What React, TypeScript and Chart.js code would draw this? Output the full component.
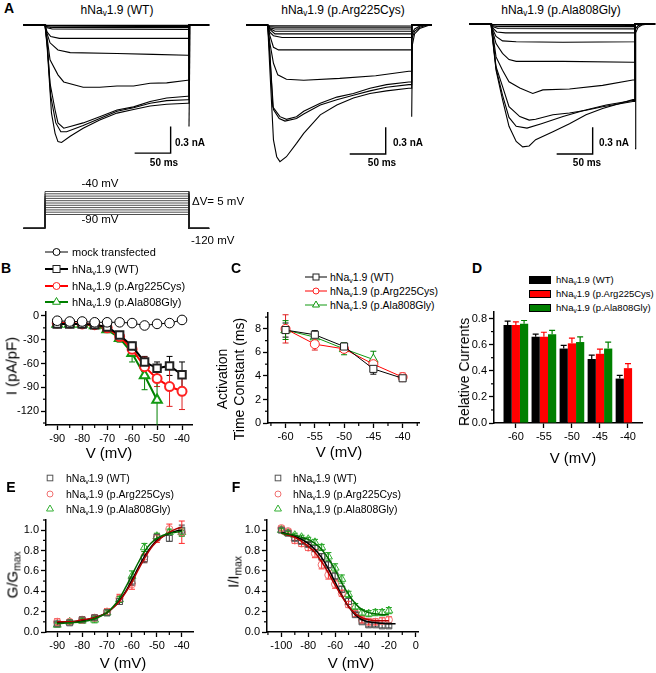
import React, { useEffect, useRef } from 'react';
import { Chart, registerables } from 'chart.js';

const FONT = '"Liberation Sans", Arial, Helvetica, sans-serif';
const RED = '#ff0000';
const GREEN = '#008000';

// ---------------- Panel A : whole-cell current traces (t in ms, I in nA) ----------------
const recStart = -30;
const recEnd = 228;
const pulseEnd = 200;
const scaleBarMs = 50;
const scaleBarNa = 0.3;

const wtTraces = [
  [[3, -0.004], [200, -0.004]],
  [[3, -0.008], [200, -0.01]],
  [[3, -0.012], [200, -0.018]],
  [[3, -0.02], [10, -0.03], [200, -0.03]],
  [[3, -0.03], [10, -0.045], [200, -0.05]],
  [[3, -0.08], [8, -0.13], [20, -0.15], [100, -0.15], [200, -0.15]],
  [[3, -0.1], [7, -0.2], [18, -0.28], [35, -0.31], [100, -0.32], [150, -0.33], [198, -0.34]],
  [[3, -0.15], [7, -0.39], [18, -0.56], [26, -0.64], [53, -0.7], [76, -0.7], [100, -0.685], [123, -0.685], [146, -0.655], [169, -0.65], [198, -0.62]],
  [[3, -0.2], [7, -0.655], [14, -0.955], [18, -1.1], [26, -1.16], [35, -1.14], [53, -1.1], [76, -1.03], [100, -0.955], [123, -0.92], [146, -0.86], [169, -0.82], [198, -0.8]],
  [[3, -0.22], [8, -0.8], [15, -1.1], [22, -1.2], [30, -1.2], [53, -1.13], [76, -1.05], [100, -0.97], [123, -0.93], [146, -0.88], [169, -0.85], [198, -0.84]],
  [[3, -0.25], [9, -0.99], [14, -1.217], [18, -1.31], [23, -1.32], [35, -1.25], [53, -1.16], [76, -1.067], [100, -0.99], [123, -0.95], [146, -0.91], [169, -0.89], [198, -0.88]],
];
const wtTails = [[[200, -1.14], [201.5, 0]]];
const wtScaleBar = [174.5, -1.44];

const argTraces = [
  [[3, -0.01], [200, -0.012]],
  [[3, -0.02], [10, -0.025], [200, -0.025]],
  [[3, -0.03], [10, -0.045], [200, -0.045]],
  [[3, -0.04], [10, -0.07], [200, -0.07]],
  [[3, -0.05], [10, -0.1], [200, -0.1]],
  [[3, -0.08], [8, -0.12], [20, -0.14], [200, -0.14]],
  [[3, -0.12], [8, -0.25], [15, -0.28], [200, -0.28]],
  [[3, -0.2], [8, -0.43], [14, -0.56], [26, -0.61], [50, -0.62], [100, -0.6], [150, -0.57], [196, -0.52]],
  [[3, -0.3], [7, -0.92], [17, -1.03], [26, -1.06], [40, -1.03], [50, -0.97], [73, -0.88], [96, -0.81], [119, -0.77], [142, -0.71], [165, -0.67], [196, -0.64]],
  [[3, -0.35], [8, -0.95], [16, -1.05], [24, -1.08], [40, -1.05], [50, -1.0], [73, -0.9], [96, -0.84], [119, -0.79], [142, -0.74], [165, -0.7], [196, -0.67]],
  [[3, -0.5], [8, -1.29], [12.5, -1.48], [17, -1.535], [26, -1.48], [40, -1.33], [50, -1.217], [73, -1.01], [96, -0.9], [119, -0.82], [142, -0.77], [165, -0.74], [196, -0.71]],
];
const argTails = [
  [[200, -1.03], [201, -0.22], [204, -0.1], [211, -0.04], [225, 0]],
  [[200, -0.16], [204, -0.07], [211, -0.025], [222, 0]],
  [[200, -0.11], [204, -0.045], [212, -0.01], [220, 0]],
];
const argScaleBar = [163.9, -1.45];

const alaTraces = [
  [[3, -0.005], [200, -0.005]],
  [[3, -0.012], [200, -0.015]],
  [[3, -0.02], [10, -0.03], [200, -0.03]],
  [[3, -0.03], [10, -0.05], [200, -0.055]],
  [[3, -0.05], [8, -0.09], [20, -0.1], [200, -0.1]],
  [[2.3, -0.06], [7, -0.14], [16, -0.19], [35, -0.2], [100, -0.205], [200, -0.2]],
  [[2.3, -0.08], [7, -0.22], [16, -0.33], [25, -0.4], [35, -0.42], [100, -0.42], [197, -0.43]],
  [[2.3, -0.1], [7, -0.37], [16, -0.52], [25, -0.65], [40, -0.72], [58, -0.78], [72, -0.74], [109, -0.73], [155, -0.69], [197, -0.63]],
  [[2.3, -0.15], [7, -0.48], [16, -0.7], [25, -0.93], [40, -1.04], [53, -1.08], [62, -1.07], [86, -1.02], [109, -1.0], [132, -0.97], [155, -0.93], [197, -0.87]],
  [[2.3, -0.16], [7, -0.5], [16, -0.8], [25, -1.05], [35, -1.15], [50, -1.17], [70, -1.12], [100, -1.04], [130, -0.97], [160, -0.91], [197, -0.86]],
  [[2.3, -0.18], [7, -0.52], [16, -0.85], [25, -1.15], [35, -1.32], [44, -1.38], [53, -1.37], [62, -1.3], [86, -1.21], [109, -1.12], [132, -1.02], [155, -0.95], [197, -0.85]],
];
const alaTails = [
  [[200, -1.4], [201, -0.1], [204, -0.04], [210, -0.01], [218, 0]],
  [[200, -0.06], [204, -0.02], [212, 0]],
];
const alaScaleBar = [141.2, -1.46];

// voltage protocol (mV)
const protoSteps = [-90, -85, -80, -75, -70, -65, -60, -55, -50, -45, -40];
const protoHold = -120;

// ---------------- Panel B : I-V ----------------
const bV = [-90, -85, -80, -75, -70, -65, -60, -55, -50, -45, -40];
const bMock = [-6, -7, -7, -8, -8, -8, -9, -12, -10, -9, -5];
const bMockErr = [2, 2, 2, 2, 2, 2, 2, 3, 3, 3, 2];
const bWT = [-10, -10, -10, -11, -14, -24, -38, -58, -66, -63, -74];
const bWTErr = [2, 2, 2, 2, 3, 4, 5, 7, 8, 12, 16];
const bArg = [-9, -9, -10, -11, -15, -26, -42, -64, -79, -89, -95];
const bArgErr = [2, 2, 2, 2, 3, 4, 6, 12, 10, 25, 23];
const bAla = [-10, -10, -10, -12, -17, -28, -47, -75, -106];
const bAlaErr = [3, 3, 3, 3, 4, 5, 11, 18, 40];
const bTicksX = [-90, -80, -70, -60, -50, -40];
const bTicksY = [0, -30, -60, -90, -120];

// ---------------- Panel C : activation time constant ----------------
const cV = [-60, -55, -50, -45, -40];
const cWT = [7.9, 7.5, 6.5, 4.6, 3.8];
const cWTErr = [0.6, 0.35, 0.3, 0.45, 0.2];
const cArg = [8.0, 6.7, 6.3, 5.0, 3.9];
const cArgErr = [1.2, 0.5, 0.3, 0.3, 0.35];
const cAla = [7.9, 7.3, 6.3, 5.4];
const cAlaErr = [0.8, 0.4, 0.5, 0.7];
const cTicksX = [-60, -55, -50, -45, -40];
const cTicksY = [0, 2, 4, 6, 8];

// ---------------- Panel D : relative currents ----------------
const dV = [-60, -55, -50, -45, -40];
const dWT = [0.75, 0.66, 0.57, 0.49, 0.34];
const dWTErr = [0.03, 0.02, 0.025, 0.03, 0.025];
const dArg = [0.75, 0.66, 0.61, 0.53, 0.42];
const dArgErr = [0.025, 0.035, 0.04, 0.035, 0.035];
const dAla = [0.76, 0.68, 0.62, 0.57];
const dAlaErr = [0.025, 0.03, 0.04, 0.05];
const dTicksY = [0, 0.2, 0.4, 0.6, 0.8];

// ---------------- Panel E : conductance ----------------
const eV = [-90, -85, -80, -75, -70, -65, -60, -55, -50, -45, -40];
const eWT = [0.08, 0.09, 0.12, 0.14, 0.19, 0.3, 0.5, 0.72, 0.93, 0.92, 1.0];
const eWTErr = [0.02, 0.02, 0.02, 0.02, 0.03, 0.03, 0.04, 0.04, 0.03, 0.03, 0.05];
const eArg = [0.1, 0.1, 0.12, 0.14, 0.2, 0.33, 0.47, 0.74, 0.92, 1.01, 0.98];
const eArgErr = [0.03, 0.02, 0.03, 0.03, 0.03, 0.04, 0.05, 0.05, 0.04, 0.05, 0.11];
const eAla = [0.07, 0.1, 0.11, 0.12, 0.19, 0.32, 0.55, 0.83, 0.94, 0.98, 0.98];
const eAlaErr = [0.02, 0.02, 0.02, 0.03, 0.03, 0.03, 0.05, 0.04, 0.03, 0.03, 0.04];
const eFitV = [-90, -85, -80, -75, -70, -67.5, -65, -62.5, -60, -57.5, -55, -52.5, -50, -47.5, -45, -42.5, -40];
const eFitWT = [0.09, 0.1, 0.11, 0.14, 0.19, 0.24, 0.31, 0.4, 0.51, 0.63, 0.74, 0.83, 0.9, 0.94, 0.97, 0.99, 1.0];
const eFitArg = [0.1, 0.1, 0.12, 0.14, 0.19, 0.24, 0.3, 0.39, 0.49, 0.61, 0.72, 0.82, 0.89, 0.94, 0.98, 1.01, 1.03];
const eFitAla = [0.08, 0.09, 0.1, 0.13, 0.19, 0.25, 0.33, 0.44, 0.56, 0.68, 0.79, 0.87, 0.92, 0.95, 0.97, 0.98, 0.99];
const eTicksX = [-90, -80, -70, -60, -50, -40];
const eTicksY = [0, 0.2, 0.4, 0.6, 0.8, 1.0];

// ---------------- Panel F : steady-state inactivation ----------------
const fV = [-100, -95, -90, -85, -80, -75, -70, -65, -60, -55, -50, -45, -40, -35, -30, -25, -20];
const fWT = [1.0, 0.97, 0.92, 0.89, 0.86, 0.82, 0.74, 0.66, 0.55, 0.42, 0.3, 0.17, 0.1, 0.07, 0.07, 0.06, 0.06];
const fWTErr = [0.02, 0.02, 0.02, 0.02, 0.02, 0.03, 0.03, 0.03, 0.03, 0.03, 0.03, 0.02, 0.02, 0.02, 0.02, 0.02, 0.02];
const fArg = [1.02, 0.99, 0.9, 0.87, 0.83, 0.77, 0.66, 0.56, 0.47, 0.38, 0.27, 0.18, 0.12, 0.1, 0.1, 0.11, 0.12];
const fArgErr = [0.02, 0.02, 0.03, 0.03, 0.03, 0.04, 0.04, 0.04, 0.04, 0.03, 0.03, 0.03, 0.03, 0.03, 0.03, 0.03, 0.03];
const fAla = [1.0, 0.97, 0.95, 0.93, 0.91, 0.88, 0.83, 0.74, 0.63, 0.52, 0.37, 0.25, 0.19, 0.18, 0.19, 0.19, 0.21];
const fAlaErr = [0.02, 0.02, 0.02, 0.02, 0.02, 0.03, 0.03, 0.04, 0.04, 0.04, 0.03, 0.03, 0.03, 0.03, 0.03, 0.03, 0.03];
const fFitV = [-100, -95, -90, -85, -80, -75, -70, -65, -60, -55, -50, -45, -40, -35, -30, -25, -20, -15];
const fFitWT = [0.98, 0.96, 0.94, 0.91, 0.87, 0.81, 0.73, 0.62, 0.49, 0.36, 0.25, 0.17, 0.12, 0.1, 0.09, 0.085, 0.08, 0.08];
const fFitArg = [0.97, 0.95, 0.93, 0.89, 0.84, 0.78, 0.69, 0.58, 0.46, 0.35, 0.25, 0.18, 0.14, 0.12, 0.11, 0.11, 0.11];
const fFitAla = [0.97, 0.96, 0.95, 0.93, 0.91, 0.87, 0.81, 0.72, 0.61, 0.48, 0.37, 0.28, 0.22, 0.19, 0.18, 0.17, 0.17];
const fTicksX = [-100, -80, -60, -40, -20, 0];
const fTicksY = [0, 0.2, 0.4, 0.6, 0.8, 1.0];

// ---------------- plugins ----------------
function drawErrors(chart: any, after: boolean) {
  const { ctx, chartArea } = chart;
  ctx.save();
  ctx.beginPath();
  ctx.rect(chartArea.left, chartArea.top - 2, chartArea.right - chartArea.left, chartArea.bottom - chartArea.top + 2);
  ctx.clip();
  chart.data.datasets.forEach((ds: any, di: number) => {
    if (!ds.errors || !!ds.errorsAfter !== after || !chart.isDatasetVisible(di)) return;
    const meta = chart.getDatasetMeta(di);
    const yScale = chart.scales[meta.yAxisID];
    ctx.strokeStyle = ds.errorColor || ds.borderColor || '#000';
    ctx.lineWidth = ds.errorWidth || 1;
    const cap = ds.capWidth == null ? 3 : ds.capWidth;
    meta.data.forEach((el: any, i: number) => {
      const e = ds.errors[i];
      if (!e) return;
      const d = ds.data[i];
      const v = typeof d === 'number' ? d : d.y;
      const x = el.x;
      const yHi = yScale.getPixelForValue(v + e);
      const yLo = ds.errorUpOnly ? el.y : yScale.getPixelForValue(v - e);
      ctx.beginPath();
      ctx.moveTo(x, yLo);
      ctx.lineTo(x, yHi);
      ctx.moveTo(x - cap, yHi);
      ctx.lineTo(x + cap, yHi);
      if (!ds.errorUpOnly) {
        ctx.moveTo(x - cap, yLo);
        ctx.lineTo(x + cap, yLo);
      }
      ctx.stroke();
    });
  });
  ctx.restore();
}

const errorBarPlugin = {
  id: 'errorBars',
  beforeDatasetsDraw(chart: any) { drawErrors(chart, false); },
  afterDatasetsDraw(chart: any) { drawErrors(chart, true); },
};

const minorTickPlugin = {
  id: 'minorTicks',
  afterDraw(chart: any, _args: any, opts: any) {
    if (!opts) return;
    const { ctx, chartArea } = chart;
    const len = opts.len || 3;
    ctx.save();
    ctx.strokeStyle = '#000';
    ctx.lineWidth = 1.2;
    ['x', 'y'].forEach((id) => {
      const step = opts[id];
      const s = chart.scales[id];
      if (!step || !s) return;
      const majors = s.ticks.map((t: any) => t.value);
      const n0 = Math.ceil((s.min - 1e-9) / step);
      const n1 = Math.floor((s.max + 1e-9) / step);
      for (let n = n0; n <= n1; n++) {
        const v = n * step;
        if (majors.some((m: number) => Math.abs(m - v) < step * 1e-3)) continue;
        const p = s.getPixelForValue(v);
        ctx.beginPath();
        if (id === 'x') { ctx.moveTo(p, chartArea.bottom); ctx.lineTo(p, chartArea.bottom + len); }
        else { ctx.moveTo(chartArea.left, p); ctx.lineTo(chartArea.left - len, p); }
        ctx.stroke();
      }
    });
    ctx.restore();
  },
};

Chart.register(...registerables, errorBarPlugin, minorTickPlugin);
Chart.defaults.font.family = FONT;

// ---------------- helpers ----------------
const fmtInt = (v: number) => String(Math.round(v));
const fmt1 = (v: number) => v.toFixed(1);

function axis(min: number, max: number, ticks: number[], fmt: (v: number) => string, extra: any = {}) {
  return {
    type: 'linear',
    min,
    max,
    afterBuildTicks: (s: any) => { s.ticks = ticks.map((v) => ({ value: v })); },
    border: { display: true, color: '#000', width: 1.5 },
    grid: { display: true, drawOnChartArea: false, drawTicks: true, tickLength: 5, tickWidth: 1.3, tickColor: '#000', offset: false },
    ticks: { color: '#000', font: { family: FONT, size: 11 }, padding: 2, maxRotation: 0, autoSkip: false, callback: (v: any) => fmt(Number(v)) },
    ...extra,
  };
}

function series(xs: number[], ys: number[], errs: number[] | null, style: any) {
  return { type: 'line', data: ys.map((y, i) => ({ x: xs[i], y })), errors: errs, ...style };
}

function PlotChart({ rect, ml = 40, mb = 30, pad = 8, make }: any) {
  const ref = useRef<HTMLCanvasElement>(null);
  const l = Math.round(rect[0]), t = Math.round(rect[1]), r = Math.round(rect[2]), b = Math.round(rect[3]);
  const left = l - ml - pad, top = t - pad;
  const width = r - l + ml + 2 * pad, height = b - t + mb + 2 * pad;
  useEffect(() => {
    const cfg: any = make();
    cfg.options = cfg.options || {};
    cfg.options.animation = false;
    cfg.options.responsive = false;
    cfg.options.events = [];
    cfg.options.layout = { padding: pad };
    const sc = cfg.options.scales || {};
    Object.keys(sc).forEach((k) => {
      sc[k].afterFit = (scale: any) => {
        if (scale.isHorizontal()) scale.height = mb; else scale.width = ml;
        scale.paddingLeft = 0; scale.paddingRight = 0; scale.paddingTop = 0; scale.paddingBottom = 0;
      };
    });
    cfg.options.plugins = { legend: { display: false }, tooltip: { enabled: false }, ...(cfg.options.plugins || {}) };
    const chart = new Chart(ref.current as HTMLCanvasElement, cfg);
    return () => chart.destroy();
  }, []);
  return <canvas ref={ref} width={width} height={height} style={{ position: 'absolute', left, top, width, height, display: 'block' }} />;
}

const PX_PER_MS = 0.72;
const PX_PER_NA = 89;

function traceData(pts: number[][]) {
  const last = pts[pts.length - 1][1];
  return [
    { x: recStart, y: 0 }, { x: 0, y: 0 },
    ...pts.map((p) => ({ x: p[0], y: p[1] })),
    { x: pulseEnd, y: last }, { x: pulseEnd, y: 0 }, { x: recEnd, y: 0 },
  ];
}

function TracePanel({ originX, baseY, traces, tails, bar }: any) {
  const left = Math.round(originX - 23), top = Math.round(baseY - 7), width = 190, height = 151;
  const xmin = (left - originX) / PX_PER_MS, xmax = (left + width - originX) / PX_PER_MS;
  const ymax = (baseY - top) / PX_PER_NA, ymin = -(top + height - baseY) / PX_PER_NA;
  const make = () => {
    const line = { type: 'line', borderColor: '#000', borderWidth: 1.1, pointRadius: 0, tension: 0, fill: false };
    const datasets: any[] = traces.map((tr: number[][]) => ({ ...line, data: traceData(tr) }));
    tails.forEach((tl: number[][]) => datasets.push({ ...line, data: tl.map((p) => ({ x: p[0], y: p[1] })) }));
    datasets.push({
      ...line, borderWidth: 1.4,
      data: [
        { x: bar[0] - scaleBarMs, y: bar[1] },
        { x: bar[0], y: bar[1] },
        { x: bar[0], y: bar[1] + scaleBarNa },
      ],
    });
    return {
      type: 'line',
      data: { datasets },
      options: {
        scales: {
          x: { type: 'linear', display: false, min: xmin, max: xmax },
          y: { type: 'linear', display: false, min: ymin, max: ymax },
        },
      },
    };
  };
  return <PlotChart rect={[left, top, left + width, top + height]} ml={0} mb={0} pad={0} make={make} />;
}

function ProtocolPanel() {
  const originX = 45;
  const left = 22, width = 190, top = 186, height = 50;
  const y40 = 191.5, pxPerMv = 0.46;
  const xmin = (left - originX) / PX_PER_MS, xmax = (left + width - originX) / PX_PER_MS;
  const ymax = -40 + (y40 - top) / pxPerMv, ymin = -40 - (top + height - y40) / pxPerMv;
  const make = () => ({
    type: 'line',
    data: {
      datasets: protoSteps.map((v) => ({
        borderColor: '#222', borderWidth: 0.8, pointRadius: 0, tension: 0,
        data: [
          { x: recStart, y: protoHold }, { x: 0, y: protoHold }, { x: 0, y: v },
          { x: pulseEnd, y: v }, { x: pulseEnd, y: protoHold }, { x: recEnd, y: protoHold },
        ],
      })),
    },
    options: {
      scales: {
        x: { type: 'linear', display: false, min: xmin, max: xmax },
        y: { type: 'linear', display: false, min: ymin, max: ymax },
      },
    },
  });
  return <PlotChart rect={[left, top, left + width, top + height]} ml={0} mb={0} pad={0} make={make} />;
}

// ---------------- chart configs ----------------
const makeB = () => ({
  type: 'line',
  data: {
    datasets: [
      series(bV, bMock, bMockErr, { borderColor: '#000', borderWidth: 1, pointStyle: 'circle', pointRadius: 4.8, pointBorderColor: '#000', pointBackgroundColor: '#fff', errorColor: '#000' }),
      series(bV, bWT, bWTErr, { borderColor: '#000', borderWidth: 2, pointStyle: 'rect', pointRadius: 5.3, pointBorderColor: '#222', pointBackgroundColor: '#fff', errorColor: '#000' }),
      series(bV, bArg, bArgErr, { borderColor: RED, borderWidth: 2, pointStyle: 'circle', pointRadius: 4.5, pointBorderColor: '#f22', pointBackgroundColor: '#fff', errorColor: '#e02020' }),
      series(bV, bAla, bAlaErr, { borderColor: GREEN, borderWidth: 2, pointStyle: 'triangle', pointRadius: 5.5, pointBorderColor: '#119911', pointBackgroundColor: '#fff', errorColor: GREEN }),
    ],
  },
  options: {
    scales: { x: axis(-94.5, -36, bTicksX, fmtInt), y: axis(-137.5, 5, bTicksY, fmtInt) },
    plugins: { minorTicks: { x: 5, y: 15 } },
  },
});

const makeC = () => ({
  type: 'line',
  data: {
    datasets: [
      series(cV, cWT, cWTErr, { borderColor: '#000', borderWidth: 1, pointStyle: 'rect', pointRadius: 5, pointBorderColor: '#222', pointBackgroundColor: '#fff', errorColor: '#000' }),
      series(cV, cArg, cArgErr, { borderColor: RED, borderWidth: 1, pointStyle: 'circle', pointRadius: 4.5, pointBorderColor: '#f22', pointBackgroundColor: '#fff', errorColor: '#e02020' }),
      series(cV, cAla, cAlaErr, { borderColor: '#119911', borderWidth: 1, pointStyle: 'triangle', pointRadius: 5.5, pointBorderColor: '#119911', pointBackgroundColor: '#fff', errorColor: GREEN }),
    ],
  },
  options: {
    scales: { x: axis(-63, -37.2, cTicksX, fmtInt), y: axis(0, 9.35, cTicksY, fmtInt) },
    plugins: { minorTicks: { x: 2.5, y: 1 } },
  },
});

const barSeries = (ys: number[], errs: number[], color: string) => ({
  type: 'bar',
  data: ys.map((y, i) => ({ x: dV[i], y })),
  backgroundColor: color,
  borderWidth: 0,
  errors: errs,
  errorsAfter: true,
  errorUpOnly: true,
  errorColor: color,
  errorWidth: 1.2,
  capWidth: 3,
  categoryPercentage: 0.88,
  barPercentage: 1,
});

const makeD = () => ({
  type: 'bar',
  data: {
    datasets: [
      barSeries(dWT, dWTErr, '#000000'),
      barSeries(dArg, dArgErr, RED),
      barSeries(dAla, dAlaErr, GREEN),
    ],
  },
  options: {
    scales: {
      x: axis(-63.9, -37.5, dV, fmtInt, { offset: false }),
      y: axis(0, 0.85, dTicksY, fmt1),
    },
    plugins: { minorTicks: { y: 0.1 } },
  },
});

function sigmoidChart(
  xs: number[], ys: number[][], errs: number[][], fitX: number[], fits: number[][],
  xr: number[], xt: number[], xMinor: number,
) {
  const markerStyles = [
    { pointStyle: 'rect', pointRadius: 4.2, pointBorderColor: '#555', errorColor: '#333' },
    { pointStyle: 'circle', pointRadius: 3.6, pointBorderColor: '#f07070', errorColor: '#ff2a2a' },
    { pointStyle: 'triangle', pointRadius: 4.6, pointBorderColor: '#33b033', errorColor: '#159a15' },
  ];
  const fitColors = ['#000000', '#b00000', '#006a00'];
  const fitDs = fits.map((f, k) => ({
    type: 'line',
    data: f.map((y, i) => ({ x: fitX[i], y })),
    borderColor: fitColors[k],
    borderWidth: 1.5,
    pointRadius: 0,
    cubicInterpolationMode: 'monotone',
  }));
  const ptDs = ys.map((y, k) =>
    series(xs, y, errs[k], { showLine: false, pointBackgroundColor: 'rgba(0,0,0,0)', pointBorderWidth: 1, ...markerStyles[k] }),
  );
  return () => ({
    type: 'line',
    data: { datasets: [...fitDs.reverse(), ...ptDs] },
    options: {
      scales: { x: axis(xr[0], xr[1], xt, fmtInt), y: axis(0, 1.1, eTicksY, fmt1) },
      plugins: { minorTicks: { x: xMinor, y: 0.1 } },
    },
  });
}

const makeE = sigmoidChart(eV, [eWT, eArg, eAla], [eWTErr, eArgErr, eAlaErr], eFitV, [eFitWT, eFitArg, eFitAla], [-94.5, -35.5], eTicksX, 5);
const makeF = sigmoidChart(fV, [fWT, fArg, fAla], [fWTErr, fArgErr, fAlaErr], fFitV, [fFitWT, fFitArg, fFitAla], [-110.7, 1.7], fTicksX, 10);

// ---------------- text helpers ----------------
const subStyle: any = { fontSize: '0.68em', verticalAlign: '-0.3em', lineHeight: 0 };
const HNa = () => (<>hNa<sub style={subStyle}>v</sub>1.9</>);

function Txt({ x, y, size, anchor = 'start', bold = false, rotate = false, children }: any) {
  const tx = anchor === 'middle' ? '-50%' : '0';
  return (
    <div
      style={{
        position: 'absolute', left: x, top: y, fontSize: size, fontFamily: FONT,
        fontWeight: bold ? 'bold' : 'normal', lineHeight: 1, whiteSpace: 'nowrap',
        transform: `translate(${tx}, -50%)${rotate ? ' rotate(-90deg)' : ''}`,
      }}
    >
      {children}
    </div>
  );
}

function Sym({ shape, cx, cy, r, stroke, fill = 'none', sw = 1 }: any) {
  if (shape === 'circle') return <circle cx={cx} cy={cy} r={r} stroke={stroke} fill={fill} strokeWidth={sw} />;
  if (shape === 'rect') return <rect x={cx - r} y={cy - r} width={2 * r} height={2 * r} stroke={stroke} fill={fill} strokeWidth={sw} />;
  const pts = `${cx},${cy - r} ${cx - r * 0.87},${cy + r * 0.5} ${cx + r * 0.87},${cy + r * 0.5}`;
  return <polygon points={pts} stroke={stroke} fill={fill} strokeWidth={sw} />;
}

function LegendItem({ x0, x1, y, lineColor, lineWidth = 1, shape, r, stroke, fill = '#fff', textX, size, children }: any) {
  const w = x1 - x0;
  return (
    <>
      <svg style={{ position: 'absolute', left: x0, top: y - 8, overflow: 'visible' }} width={w} height={16}>
        {lineColor ? <line x1={0} y1={8} x2={w} y2={8} stroke={lineColor} strokeWidth={lineWidth} /> : null}
        <Sym shape={shape} cx={w / 2} cy={8} r={r} stroke={stroke} fill={fill} />
      </svg>
      <Txt x={textX} y={y} size={size}>{children}</Txt>
    </>
  );
}

function Swatch({ x, y, color, textX, size, children }: any) {
  return (
    <>
      <div style={{ position: 'absolute', left: x, top: y - 4, width: 22, height: 8, background: color, boxSizing: 'border-box', border: '0.5px solid #000' }} />
      <Txt x={textX} y={y} size={size}>{children}</Txt>
    </>
  );
}

export default function App() {
  return (
    <div style={{ position: 'absolute', left: 0, top: 0, width: 656, height: 673, background: '#fff', fontFamily: FONT, color: '#000', overflow: 'hidden' }}>
      {/* Panel A */}
      <Txt x={9} y={8} size={14} anchor="middle" bold>A</Txt>
      <Txt x={117} y={10} size={12} anchor="middle"><HNa /> (WT)</Txt>
      <Txt x={343} y={10} size={12} anchor="middle"><HNa /> (p.Arg225Cys)</Txt>
      <Txt x={561} y={10} size={12} anchor="middle"><HNa /> (p.Ala808Gly)</Txt>
      <TracePanel originX={45} baseY={25} traces={wtTraces} tails={wtTails} bar={wtScaleBar} />
      <TracePanel originX={267.7} baseY={25} traces={argTraces} tails={argTails} bar={argScaleBar} />
      <TracePanel originX={491} baseY={24} traces={alaTraces} tails={alaTails} bar={alaScaleBar} />
      <Txt x={175} y={143} size={10} bold>0.3 nA</Txt>
      <Txt x={164} y={163} size={10} anchor="middle" bold>50 ms</Txt>
      <Txt x={393} y={143} size={10} bold>0.3 nA</Txt>
      <Txt x={382} y={163} size={10} anchor="middle" bold>50 ms</Txt>
      <Txt x={599} y={143} size={10} bold>0.3 nA</Txt>
      <Txt x={587} y={163} size={10} anchor="middle" bold>50 ms</Txt>

      <ProtocolPanel />
      <Txt x={100} y={184} size={11.5} anchor="middle">-40 mV</Txt>
      <Txt x={100} y={220} size={11.5} anchor="middle">-90 mV</Txt>
      <Txt x={192} y={202} size={11.5}>ΔV= 5 mV</Txt>
      <Txt x={191} y={241} size={11.5}>-120 mV</Txt>

      {/* Panel B */}
      <Txt x={6} y={268} size={14} anchor="middle" bold>B</Txt>
      <LegendItem x0={45} x1={68} y={252} lineColor="#000" lineWidth={1} shape="circle" r={3.5} stroke="#000" textX={72} size={11}>mock transfected</LegendItem>
      <LegendItem x0={45} x1={68} y={269} lineColor="#000" lineWidth={2} shape="rect" r={3.5} stroke="#222" textX={72} size={11}><HNa /> (WT)</LegendItem>
      <LegendItem x0={45} x1={68} y={286} lineColor={RED} lineWidth={2} shape="circle" r={3.5} stroke="#f22" textX={72} size={11}><HNa /> (p.Arg225Cys)</LegendItem>
      <LegendItem x0={45} x1={68} y={302} lineColor={GREEN} lineWidth={2} shape="triangle" r={4.5} stroke="#119911" textX={72} size={11}><HNa /> (p.Ala808Gly)</LegendItem>
      <PlotChart rect={[45.7, 312.3, 191.7, 425]} make={makeB} />
      <Txt x={11} y={366} size={15} anchor="middle" rotate>I (pA/pF)</Txt>
      <Txt x={109} y={452} size={15} anchor="middle">V (mV)</Txt>

      {/* Panel C */}
      <Txt x={236} y={268} size={14} anchor="middle" bold>C</Txt>
      <LegendItem x0={305} x1={327} y={277} lineColor="#000" shape="rect" r={3} stroke="#222" textX={330} size={10.5}><HNa /> (WT)</LegendItem>
      <LegendItem x0={305} x1={327} y={291} lineColor={RED} shape="circle" r={3} stroke="#f22" textX={330} size={10.5}><HNa /> (p.Arg225Cys)</LegendItem>
      <LegendItem x0={305} x1={327} y={304.5} lineColor="#119911" shape="triangle" r={4} stroke="#119911" textX={330} size={10.5}><HNa /> (p.Ala808Gly)</LegendItem>
      <PlotChart rect={[268.3, 313.3, 419, 423.3]} make={makeC} />
      <Txt x={222} y={379} size={14} anchor="middle" rotate>Activation</Txt>
      <Txt x={239} y={379} size={14} anchor="middle" rotate>Time Constant (ms)</Txt>
      <Txt x={339} y={451} size={15} anchor="middle">V (mV)</Txt>

      {/* Panel D */}
      <Txt x={477} y={268} size={14} anchor="middle" bold>D</Txt>
      <Swatch x={529} y={280} color="#000" textX={556} size={9.5}><HNa /> (WT)</Swatch>
      <Swatch x={529} y={294} color={RED} textX={556} size={9.5}><HNa /> (p.Arg225Cys)</Swatch>
      <Swatch x={529} y={308} color={GREEN} textX={556} size={9.5}><HNa /> (p.Ala808Gly)</Swatch>
      <PlotChart rect={[494, 311.7, 642, 423]} make={makeD} />
      <Txt x={464} y={372} size={14} anchor="middle" rotate>Relative Currents</Txt>
      <Txt x={573} y={457} size={15} anchor="middle">V (mV)</Txt>

      {/* Panel E */}
      <Txt x={11} y={487} size={14} anchor="middle" bold>E</Txt>
      <LegendItem x0={44} x1={56} y={478} shape="rect" r={2.8} stroke="#555" fill="none" textX={66} size={10.5}><HNa /> (WT)</LegendItem>
      <LegendItem x0={44} x1={56} y={493.5} shape="circle" r={3} stroke="#f07070" fill="none" textX={66} size={10.5}><HNa /> (p.Arg225Cys)</LegendItem>
      <LegendItem x0={44} x1={56} y={509} shape="triangle" r={4} stroke="#33b033" fill="none" textX={66} size={10.5}><HNa /> (p.Ala808Gly)</LegendItem>
      <PlotChart rect={[45.7, 520, 193, 631.7]} make={makeE} />
      <Txt x={12} y={575} size={15} anchor="middle" rotate>G/G<sub style={subStyle}>max</sub></Txt>
      <Txt x={123} y={662} size={15} anchor="middle">V (mV)</Txt>

      {/* Panel F */}
      <Txt x={236} y={487} size={14} anchor="middle" bold>F</Txt>
      <LegendItem x0={272} x1={284} y={478} shape="rect" r={2.8} stroke="#555" fill="none" textX={293} size={10.5}><HNa /> (WT)</LegendItem>
      <LegendItem x0={272} x1={284} y={493.5} shape="circle" r={3} stroke="#f07070" fill="none" textX={293} size={10.5}><HNa /> (p.Arg225Cys)</LegendItem>
      <LegendItem x0={272} x1={284} y={509} shape="triangle" r={4} stroke="#33b033" fill="none" textX={293} size={10.5}><HNa /> (p.Ala808Gly)</LegendItem>
      <PlotChart rect={[267.3, 520, 418.3, 631.7]} make={makeF} />
      <Txt x={233} y={572} size={15} anchor="middle" rotate>I/I<sub style={subStyle}>max</sub></Txt>
      <Txt x={351} y={662} size={15} anchor="middle">V (mV)</Txt>
    </div>
  );
}
